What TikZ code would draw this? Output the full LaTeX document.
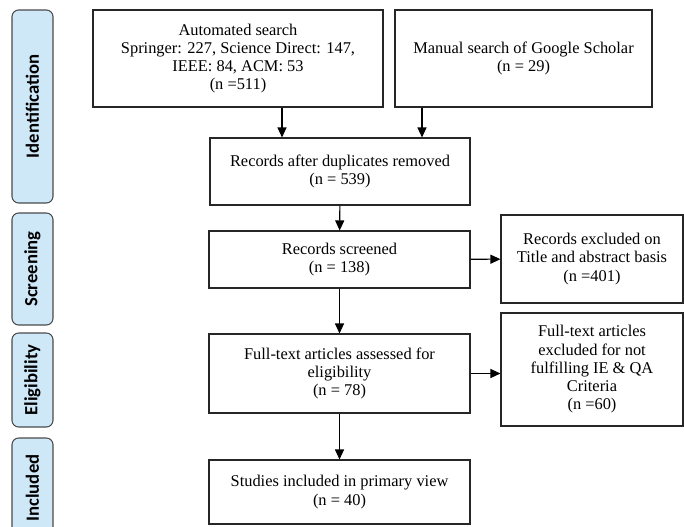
\documentclass[tikz,border=0pt]{standalone}
\usepackage{fontspec}
\setmainfont{Liberation Serif}
\newfontfamily\stagefont{Carlito}
\usetikzlibrary{
  arrows.meta, % for the Triangle arrow tip
  positioning, % for relative placement
}
\definecolor{stageblue}{HTML}{CFE8F8}
\definecolor{stageedge}{HTML}{4A4A4A}
\tikzset{
  box/.style={ % style for each step of the flow
    rectangle,draw=black!85,line width=0.8pt, % thin dark frame
    align=center, % centred lines of text
    inner sep=2pt,
    font=\fontsize{12.3}{13.7}\selectfont,
  },
  stage/.style={ % style for the phase labels on the left
    rectangle,rounded corners=5pt,draw=stageedge,fill=stageblue,line width=0.8pt,
    rotate=90, % text runs bottom to top
    minimum height=30.75pt,
    font=\stagefont\bfseries\fontsize{14}{16}\selectfont,
  },
  conn/.style={ % style for the arrows
    -{Triangle[length=7.5pt,width=6.75pt]}, % small filled triangle
    line width=0.8pt,
  },
}

\begin{document}
\begin{tikzpicture}[x=0.75pt,y=-0.75pt]
	\useasboundingbox (0,0) rectangle (684,526);

	% phases
	\node (ident) [stage,minimum width=144.75pt] at (32.5,106.5) {Identification};
	\node (scr) [stage,minimum width=84pt] at (32.5,269) {Screening};
	\node (elig) [stage,minimum width=70.5pt] at (32.5,380) {Eligibility};
	\node (incl) [stage,minimum width=75pt] at (32.5,488) {Included};

	% flow
	\node (auto) [box,minimum width=217.5pt,minimum height=72.75pt] at (238,58.5)
		{Automated search\\Springer: 227, Science Direct: 147,\\IEEE: 84, ACM: 53\\(n =511)};
	\node (manual) [box,minimum width=192.75pt,minimum height=72.75pt] at (523.5,58.5)
		{Manual search of Google Scholar\\(n = 29)};
	\node (dup) [box,minimum width=195pt,minimum height=50.25pt] at (340,171.5)
		{Records after duplicates removed\\(n = 539)};
	\node (screen) [box,minimum width=195.75pt,minimum height=42.75pt] at (339.5,259.5)
		{Records screened\\(n = 138)};
	\node (excla) [box,minimum width=136.5pt,minimum height=66pt] at (592,259)
		{Records excluded on\\Title and abstract basis\\(n =401)};
	\node (full) [box,minimum width=195.75pt,minimum height=59.25pt] at (339.5,373.5)
		{Full-text articles assessed for\\eligibility\\(n = 78)};
	\node (exclb) [box,minimum width=136.5pt,minimum height=84.75pt] at (592,369.5)
		{Full-text articles\\excluded for not\\fulfilling IE \& QA\\Criteria\\(n =60)};
	\node (studies) [box,minimum width=195.75pt,minimum height=48pt] at (339.5,492)
		{Studies included in primary view\\(n = 40)};

	\draw[conn] ([xshift=-43.5pt]dup.north |- auto.south) -- ([xshift=-43.5pt]dup.north);
	\draw[conn] ([xshift=61.5pt]dup.north |- manual.south) -- ([xshift=61.5pt]dup.north);
	\draw[conn] (dup) -- (screen);
	\draw[conn] (screen) -- (full);
	\draw[conn] (full) -- (studies);
	\draw[conn] (screen) -- (excla);
	\draw[conn] (full.east) -- (full.east -| exclb.west);
\end{tikzpicture}
\end{document}
